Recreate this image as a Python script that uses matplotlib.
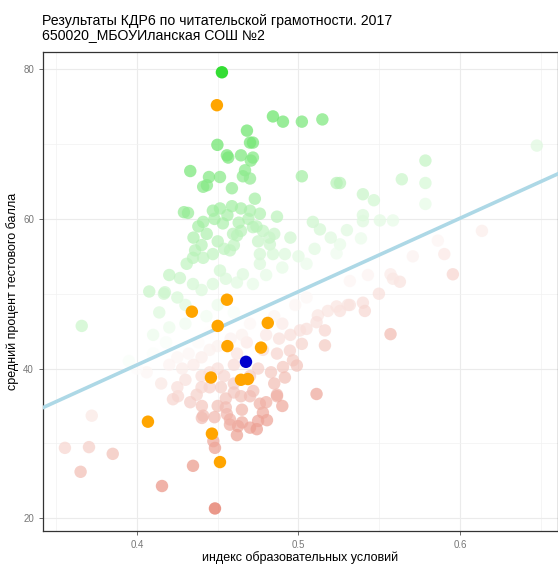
import numpy as np
import matplotlib
matplotlib.use("Agg")
import matplotlib.pyplot as plt
from matplotlib.colors import LinearSegmentedColormap, TwoSlopeNorm

plt.rcParams['font.family'] = ['Liberation Sans', 'DejaVu Sans']

title_text = "Результаты КДР6 по читательской грамотности. 2017\n650020_МБОУИланская СОШ №2"
x_label = "индекс образовательных условий"
y_label = "средний процент тестового балла"

# all schools (index, mean score)
schools_x = [
    0.4842, 0.4904, 0.5021, 0.5148, 0.4681, 0.4700, 0.4718, 0.4498, 0.4557, 0.4565,
    0.4644, 0.4718, 0.4705, 0.4330, 0.4669, 0.4446, 0.4514, 0.4656, 0.4700, 0.5021,
    0.5236, 0.4410, 0.4433, 0.4588, 0.4730, 0.4291, 0.4316, 0.4470, 0.4514, 0.4588,
    0.4644, 0.4700, 0.4761, 0.4867, 0.5089, 0.5133, 0.4410, 0.4432, 0.4532, 0.4595,
    0.4644, 0.4718, 0.4780, 0.4823, 0.4916, 0.4761, 0.4576, 0.4470, 0.4347,
    0.5786, 0.5640, 0.5786, 0.5257, 0.5399, 0.5467, 0.5786, 0.5399, 0.5399, 0.5585,
    0.5504, 0.5387, 0.5257, 0.5236, 0.6476,
    0.3658, 0.4076, 0.4167, 0.4138, 0.4173,
    0.4308, 0.4410, 0.4514, 0.4656, 0.4761, 0.4842, 0.4266, 0.4347, 0.4470, 0.4619,
    0.4718, 0.4200, 0.4250, 0.4300, 0.4400, 0.4550, 0.4800, 0.4900, 0.5000, 0.5050,
    0.5100, 0.4950, 0.4850, 0.4400, 0.4350, 0.4500, 0.4600, 0.4750, 0.5300, 0.5200,
    0.4380, 0.4480, 0.4560, 0.4630, 0.4690, 0.4740, 0.4820, 0.4540, 0.4620, 0.4360,
    0.6136, 0.5863, 0.5903, 0.5956, 0.5628, 0.5570, 0.5585, 0.5430, 0.5318, 0.5498,
    0.5318, 0.5399, 0.5411, 0.5257, 0.5570, 0.5708,
    0.5182, 0.5120, 0.5112, 0.5050, 0.5009, 0.5164, 0.5021, 0.5164, 0.4947, 0.4966,
    0.4867, 0.4904, 0.4990, 0.4916, 0.5112, 0.4867, 0.5236, 0.5306,
    0.4254, 0.4223, 0.4402, 0.4410, 0.4557, 0.4576, 0.4626, 0.4700, 0.4742, 0.4805,
    0.4780, 0.4761, 0.4700, 0.4644, 0.4867, 0.4576, 0.4651, 0.4619, 0.4402, 0.4483,
    0.4347, 0.4155, 0.4483, 0.4473,
    0.3720, 0.3554, 0.3703, 0.3850, 0.3651, 0.4060,
    0.4300, 0.4350, 0.4400, 0.4400, 0.4450, 0.4500, 0.4520, 0.4550, 0.4600, 0.4600,
    0.4620, 0.4680, 0.4700, 0.4720, 0.4750, 0.4780, 0.4800, 0.4830, 0.4850, 0.4880,
    0.4900, 0.4950, 0.4700, 0.4650, 0.4580, 0.4500, 0.4450, 0.4380, 0.4320, 0.4280,
    0.4250, 0.4200, 0.4180, 0.4100, 0.4150, 0.4250, 0.4370, 0.4450, 0.4500, 0.4480,
    0.4550, 0.4650, 0.4800, 0.4900, 0.4750, 0.4450, 0.4400, 0.4330, 0.4600, 0.4540,
    0.4430, 0.4600, 0.4750, 0.4850, 0.4980, 0.5050, 0.4500, 0.4300, 0.4200, 0.4100,
    0.4000, 0.3950,
]
schools_y = [
    73.7, 73.0, 73.0, 73.3, 71.8, 70.2, 70.2, 69.9, 68.5, 68.2,
    68.5, 68.2, 67.8, 66.4, 66.5, 65.6, 65.6, 65.7, 65.4, 65.7,
    64.8, 64.3, 64.5, 64.1, 62.7, 60.9, 60.8, 61.1, 61.4, 61.7,
    61.4, 61.1, 60.7, 60.3, 59.6, 58.6, 59.6, 58.0, 59.4, 58.0,
    58.4, 58.9, 58.4, 56.6, 55.3, 55.3, 55.8, 55.3, 54.8,
    67.8, 65.3, 64.8, 64.8, 63.3, 62.5, 62.0, 60.5, 59.7, 59.8,
    59.8, 57.4, 56.6, 55.4, 69.8,
    45.7, 50.3, 50.0, 47.5, 50.2,
    54.0, 54.8, 53.1, 52.6, 54.0, 55.3, 52.1, 51.3, 51.3, 51.5,
    51.3, 52.5, 49.5, 48.5, 50.5, 52.0, 52.5, 53.5, 55.0, 54.0,
    56.0, 57.5, 58.0, 56.5, 57.5, 57.0, 56.5, 57.0, 58.5, 57.5,
    59.0, 60.0, 60.5, 59.5, 60.0, 59.0, 57.5, 56.0, 57.8, 55.8,
    58.4, 57.1, 55.3, 52.6, 51.6, 52.6, 52.0, 52.5, 51.7, 50.0,
    48.5, 48.8, 47.7, 47.7, 44.6, 55.0,
    47.7, 47.1, 46.2, 45.3, 45.1, 45.1, 43.3, 43.1, 42.4, 41.1,
    42.0, 40.2, 40.4, 38.8, 36.6, 36.5, 48.3, 48.5,
    36.3, 35.9, 35.0, 33.7, 33.9, 32.5, 32.3, 32.1, 31.9, 33.1,
    34.1, 35.3, 36.3, 36.3, 36.3, 33.2, 32.8, 31.1, 33.4, 29.4,
    27.0, 24.3, 21.3, 30.3,
    33.7, 29.4, 29.5, 28.6, 26.2, 39.5,
    38.5, 40.5, 39.0, 41.5, 42.5, 40.0, 37.5, 36.0, 38.0, 40.5,
    42.0, 43.5, 39.0, 37.0, 40.0, 42.5, 44.5, 39.5, 38.0, 44.0,
    46.0, 44.5, 46.0, 44.5, 44.0, 43.0, 44.8, 43.5, 42.0, 40.0,
    41.5, 40.5, 43.5, 42.0, 38.0, 37.5, 36.5, 37.5, 35.0, 33.5,
    34.8, 34.5, 35.5, 35.0, 33.0, 39.5, 37.5, 35.5, 36.8, 39.0,
    47.0, 47.5, 48.0, 47.0, 48.5, 49.5, 48.5, 46.0, 45.5, 44.5,
    40.0, 41.0,
]

# schools of the municipality (orange)
district_x = [0.4495, 0.4340, 0.4557, 0.4500, 0.4810, 0.4560, 0.4768, 0.4458, 0.4644,
              0.4687, 0.4068, 0.4464, 0.4514]
district_y = [75.2, 47.6, 49.2, 45.7, 46.1, 43.0, 42.8, 38.8, 38.5,
              38.6, 32.9, 31.3, 27.5]

# the school itself (blue)
school_x = [0.4675]
school_y = [40.9]

# best school (bright green)
best_x = [0.4526]
best_y = [79.6]

# regression line
line_x0 = 0.342
line_y0 = 34.8
line_slope = 98.0

xs = np.array(schools_x)
ys = np.array(schools_y)
resid = ys - (line_y0 + line_slope * (xs - line_x0))

cmap = LinearSegmentedColormap.from_list(
    "resid", [(0.0, "#E0604A"), (0.5, "#FFFFFF"), (1.0, "#2FDA2F")])
norm = TwoSlopeNorm(vmin=-26, vcenter=0, vmax=34)

fig = plt.figure(figsize=(5.58, 5.66), dpi=100)
ax = fig.add_axes([0.077, 0.062, 0.923, 0.846])

ax.set_xlim(0.3418, 0.6607)
ax.set_ylim(18.3, 82.3)

ax.set_xticks([0.4, 0.5, 0.6])
ax.set_xticks([0.35, 0.45, 0.55, 0.65], minor=True)
ax.set_yticks([20, 40, 60, 80])
ax.set_yticks([30, 50, 70], minor=True)
ax.grid(which="major", color="#EBEBEB", linewidth=0.8)
ax.grid(which="minor", color="#F2F2F2", linewidth=0.5)
ax.set_axisbelow(True)

ax.tick_params(which="major", length=3, color="#555555", labelcolor="#777777",
               labelsize=7, width=0.6)
ax.tick_params(which="minor", length=0)
for sp in ax.spines.values():
    sp.set_color("#333333")
    sp.set_linewidth(0.9)

ax.scatter(xs, ys, c=resid, cmap=cmap, norm=norm, s=80, alpha=0.7,
           edgecolors="none", zorder=2)

ax.axline((line_x0, line_y0), slope=line_slope, color="#ADD8E6",
          linewidth=2.6, zorder=3)

ax.scatter(district_x, district_y, color="#FFA500", s=80, edgecolors="none", zorder=4)
ax.scatter(best_x, best_y, color="#33DD33", s=80, edgecolors="none", zorder=4)
ax.scatter(school_x, school_y, color="#0000CD", s=80, edgecolors="none", zorder=5)

ax.set_xlabel(x_label, fontsize=9, labelpad=1)
ax.set_ylabel(y_label, fontsize=9, labelpad=3)

fig.text(0.075, 0.925, title_text, fontsize=10.2, ha="left", va="bottom",
         linespacing=1.0)

fig.savefig("out.png", dpi=100)
